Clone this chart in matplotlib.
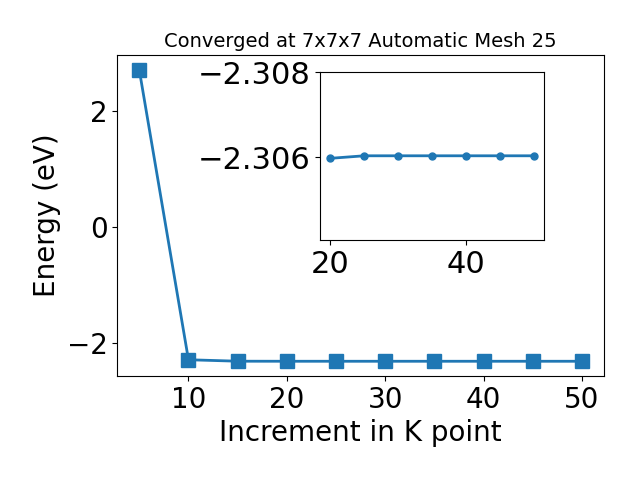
import matplotlib
matplotlib.use("Agg")
import matplotlib.pyplot as plt

kpoints = [5, 10, 15, 20, 25, 30, 35, 40, 45, 50]
energies = [2.70, -2.28, -2.305, -2.30597, -2.30603, -2.30603, -2.30603, -2.30603, -2.30603, -2.30603]

inset_k = kpoints[3:]
inset_e = energies[3:]

fig = plt.figure(figsize=(6.4, 4.8), dpi=100)
ax = fig.add_subplot(111)
ax.plot(kpoints, energies, 's-', color='#1f77b4', linewidth=2, markersize=10)
ax.set_title("Converged at 7x7x7 Automatic Mesh 25", fontsize=14)
ax.set_xlabel("Increment in K point", fontsize=20)
ax.set_ylabel("Energy (eV)", fontsize=20)
ax.tick_params(labelsize=20)
ax.set_yticks([-2, 0, 2])
fig.subplots_adjust(left=0.183, right=0.944, top=0.885, bottom=0.217)

ins = fig.add_axes([0.5, 0.5, 0.35, 0.35])
ins.plot(inset_k, inset_e, 'o-', color='#1f77b4', linewidth=2, markersize=5)
ins.set_ylim(-2.30405, -2.308)
ins.set_yticks([-2.308, -2.306])
ins.set_xticks([20, 40])
ins.tick_params(labelsize=22)

fig.savefig("out.png")
